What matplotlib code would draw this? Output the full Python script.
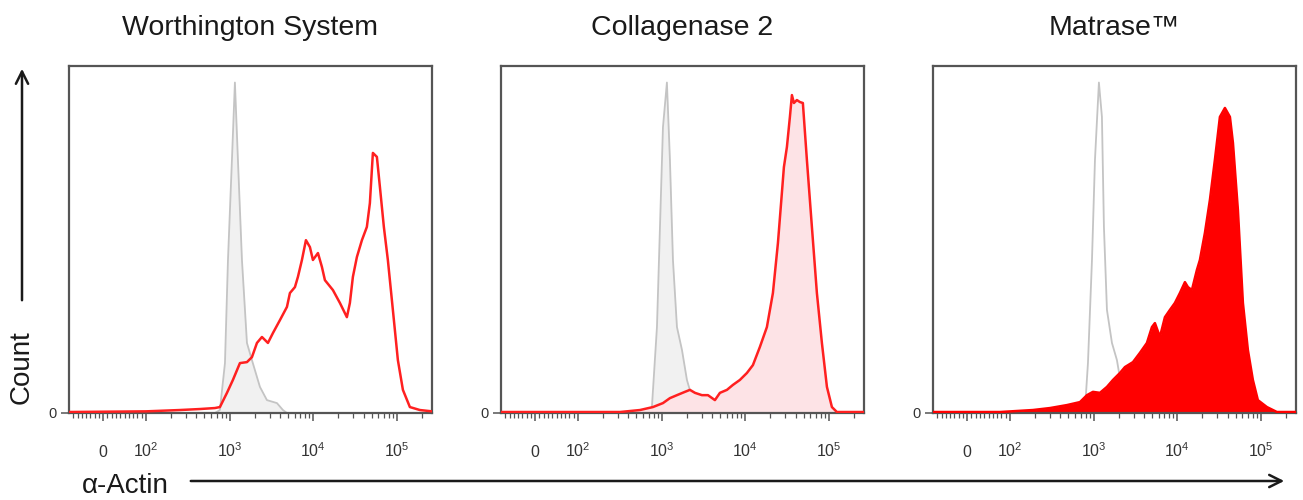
"""Flow cytometry overlays: alpha-actin staining after three digestion systems."""
import numpy as np
import matplotlib
matplotlib.use("Agg")
import matplotlib.pyplot as plt
from matplotlib.patches import FancyArrowPatch

plt.rcParams.update({"font.family": "Liberation Sans",
                     "mathtext.fontset": "custom",
                     "mathtext.rm": "Liberation Sans"})

TITLES = ["Worthington System", "Collagenase 2", "Matrase\u2122"]

# x = fluorescence intensity, y = % of max (isotype peak = 100)
WORTH_CTRL_X = [-80, 667, 765, 879, 955, 1065, 1156, 1256, 1403, 1610, 1847,
                2301, 2790, 3674, 4333, 4840, 262144]
WORTH_CTRL_Y = [0, 0, 0.9, 15.1, 46.3, 76.6, 100, 76.6, 46.3, 21.2, 16.0,
                7.9, 3.9, 3.0, 0.9, 0, 0]
WORTH_STAIN_X = [-80, 100, 255, 441, 667, 765, 929, 1094, 1327, 1610, 1847,
                 2120, 2432, 2868, 3292, 3990, 4840, 5253, 6031, 6549, 7310,
                 8161, 9110, 9893, 11360, 12670, 13760, 17150, 20790, 25190,
                 27360, 29720, 33180, 38100, 43650, 47430, 51520, 57520,
                 62500, 69700, 77800, 89300, 102500, 117700, 142600, 187800,
                 262144]
WORTH_STAIN_Y = [0.3, 0.5, 0.9, 1.2, 1.5, 1.8, 6.1, 10.0, 15.1, 15.4, 16.9,
                 21.2, 23.0, 21.2, 24.2, 28.1, 32.1, 36.3, 38.1, 41.2, 46.3,
                 52.3, 50.2, 46.3, 48.4, 44.2, 40.2, 37.2, 33.3, 29.0,
                 33.3, 41.2, 47.2, 52.3, 56.3, 63.5, 78.7, 77.5,
                 68.4, 56.3, 46.3, 31.2, 16.0, 7.0, 1.8, 0.9,
                 0.5]

COLL_CTRL_X = [-80, 700, 765, 879, 955, 1037, 1156, 1256, 1365, 1524, 1749,
               2005, 2301, 2868, 3777, 4333, 262144]
COLL_CTRL_Y = [0, 0, 1.8, 26.0, 56.3, 86.5, 100, 76.6, 46.3, 26.0, 19.1,
               10.0, 4.8, 3.0, 1.8, 0.3, 0]
COLL_STAIN_X = [-80, 318, 551, 787, 1037, 1256, 1524, 1898, 2178, 2500, 3030,
                3575, 4333, 4973, 6031, 7110, 8610, 10440, 12330, 14940,
                18110, 21370, 24530, 27360, 28920, 31420, 34120, 36060,
                38100, 41340, 44890, 48750, 54440, 62500, 71700, 82300,
                94500, 108400, 124300, 262144]
COLL_STAIN_Y = [0.3, 0.3, 0.9, 1.8, 3.0, 4.5, 5.4, 6.4, 7.0, 6.1, 5.4,
                5.4, 3.9, 6.1, 7.0, 8.5, 10.0, 12.1, 14.5, 20.0,
                26.0, 36.3, 51.4, 66.6, 74.4, 80.5, 89.6, 96.2,
                93.8, 94.7, 94.1, 93.8, 76.6, 56.3, 36.3, 21.2,
                7.9, 1.8, 0.3, 0.3]

MATR_CTRL_X = [-80, 700, 787, 855, 955, 1037, 1156, 1256, 1327, 1442, 1655,
               1898, 2061, 2500, 3500, 5000, 262144]
MATR_CTRL_Y = [0, 0, 0.9, 15.1, 46.3, 76.6, 100, 89.6, 56.3, 31.2, 21.2,
               16.0, 10.6, 5.0, 2.0, 0, 0]
MATR_STAIN_X = [-80, 77, 188, 301, 480, 686, 832, 981, 1189, 1442, 1702,
                2061, 2366, 2951, 3575, 4333, 4973, 5400, 6195, 7110, 8161,
                9360, 10740, 12330, 13390, 14940, 17150, 18620, 21370,
                24530, 28130, 32290, 37070, 42540, 46240, 52990, 60810,
                69700, 80000, 91800, 117700, 155000, 262144]
MATR_STAIN_Y = [0.3, 0.3, 0.9, 1.5, 2.4, 3.3, 5.4, 6.4, 6.1, 7.9, 10.0,
                12.1, 13.9, 15.4, 18.2, 21.2, 26.0, 27.2, 23.0, 29.0, 31.2,
                33.3, 36.3, 39.6, 38.1, 37.2, 43.3, 46.3, 54.5,
                64.5, 76.6, 89.6, 92.3, 89.6, 81.7, 61.4, 33.3,
                19.1, 10.0, 3.9, 1.8, 0.3, 0.3]

MAJOR_TICKS = [0, 1e2, 1e3, 1e4, 1e5]
MAJOR_LABELS = ["0", r"$\mathregular{10^{2}}$", r"$\mathregular{10^{3}}$",
                r"$\mathregular{10^{4}}$", r"$\mathregular{10^{5}}$"]

CTRL = [(WORTH_CTRL_X, WORTH_CTRL_Y), (COLL_CTRL_X, COLL_CTRL_Y),
        (MATR_CTRL_X, MATR_CTRL_Y)]
STAIN = [(WORTH_STAIN_X, WORTH_STAIN_Y), (COLL_STAIN_X, COLL_STAIN_Y),
         (MATR_STAIN_X, MATR_STAIN_Y)]
STAIN_FILL = [None, "#fde3e6", "#ff0000"]
CTRL_FILL = [True, True, False]
RED = "#ff2020"
GREY_LINE = "#c4c4c4"
GREY_FILL = "#f1f1f1"
FRAME = "#555555"

minor = [v for v in range(-70, 100, 10) if v != 0]
minor += [k * 10.0 ** d for d in range(2, 6) for k in range(2, 10)
          if k * 10.0 ** d < 262144]

fig = plt.figure(figsize=(13.03, 5.0), dpi=100)
lefts = [69, 501, 933]
for i, left in enumerate(lefts):
    ax = fig.add_axes([left / 1303, 87 / 500, 363 / 1303, 347 / 500])
    ax.set_xscale("symlog", linthresh=100, linscale=0.46)
    cx, cy = CTRL[i]
    sx, sy = STAIN[i]
    if CTRL_FILL[i]:
        ax.fill_between(cx, cy, color=GREY_FILL, lw=0)
        ax.plot(cx, cy, color=GREY_LINE, lw=1.3)
    if STAIN_FILL[i] is not None:
        ax.fill_between(sx, sy, color=STAIN_FILL[i], lw=0, zorder=2)
    if not CTRL_FILL[i]:
        ax.plot(cx, cy, color=GREY_LINE, lw=1.3, zorder=1)
    ax.plot(sx, sy, color=RED if i < 2 else "#ff0000", lw=1.8, zorder=3)
    ax.set_xlim(-80, 262144)
    ax.set_ylim(0, 105)
    ax.set_xticks(MAJOR_TICKS, MAJOR_LABELS, va="baseline", fontsize=11.5,
                  color="#333333")
    ax.set_xticks(minor, minor=True)
    ax.set_yticks([0], ["0"], fontsize=10.5, color="#333333")
    ax.tick_params(axis="x", which="major", length=6, width=1.1,
                   color=FRAME, pad=26)
    ax.tick_params(axis="x", which="minor", length=3.5, width=0.9,
                   color=FRAME)
    ax.tick_params(axis="y", length=6, width=1.1, color=FRAME, pad=3)
    for s in ax.spines.values():
        s.set_color(FRAME)
        s.set_linewidth(1.6)
    fig.text((left + 181.5) / 1303, 1 - 28 / 500, TITLES[i],
             ha="center", va="center", fontsize=20.5, color="#1a1a1a")

fig.text(22 / 1303, 1 - 367 / 500, "Count", rotation=90, ha="center",
         va="center", fontsize=20, color="#1a1a1a")
fig.add_artist(FancyArrowPatch((22 / 1303, 1 - 303 / 500),
                               (22 / 1303, 1 - 66 / 500),
                               transform=fig.transFigure, arrowstyle="->",
                               mutation_scale=22, lw=1.8, color="#1a1a1a"))
fig.text(82 / 1303, 1 - 486 / 500, "\u03b1-Actin", ha="left", va="center",
         fontsize=20, color="#1a1a1a")
fig.add_artist(FancyArrowPatch((188 / 1303, 1 - 481 / 500),
                               (1287 / 1303, 1 - 481 / 500),
                               transform=fig.transFigure, arrowstyle="->",
                               mutation_scale=22, lw=1.8, color="#1a1a1a"))

fig.savefig("out.png", dpi=100)
